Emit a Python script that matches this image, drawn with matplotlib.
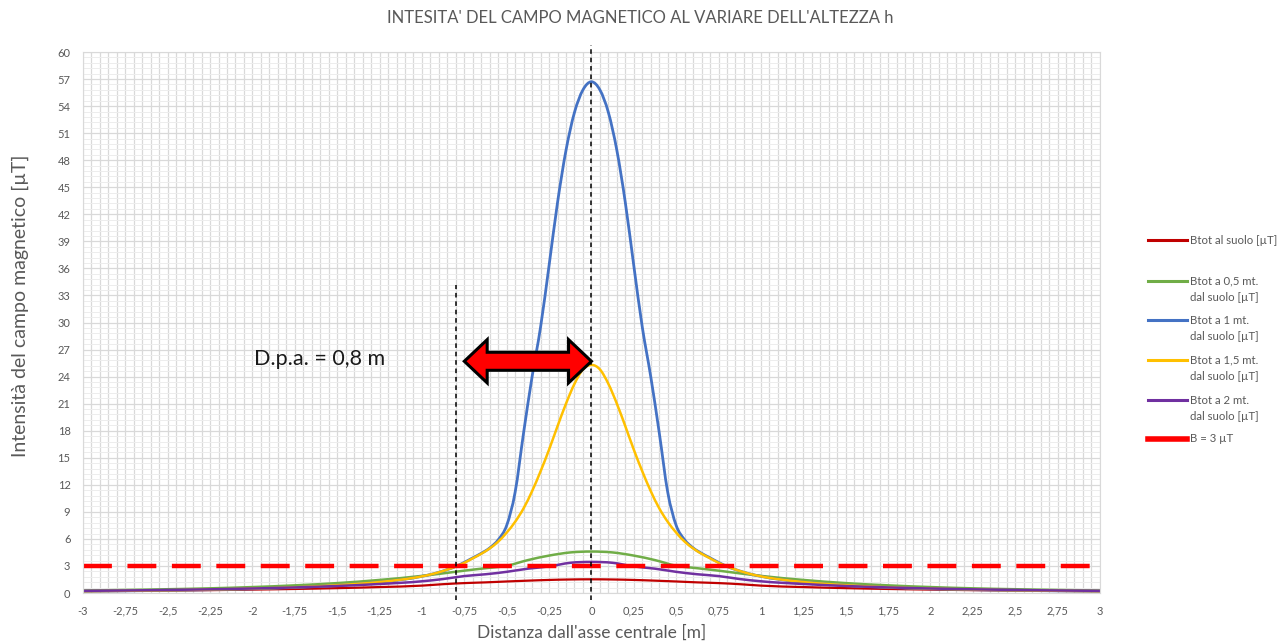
import matplotlib.pyplot as plt
import numpy as np
from matplotlib.lines import Line2D
from matplotlib.patches import Polygon, PathPatch
from matplotlib.path import Path
from matplotlib.ticker import MultipleLocator, FuncFormatter

plt.rcParams['font.family'] = ['Lato', 'DejaVu Sans']

# distanza dall'asse centrale [m]
x_fine = [-3, -2.75, -2.5, -2.25, -2, -1.75, -1.5, -1.25,
          -1.0, -0.95, -0.9, -0.85, -0.8, -0.75, -0.7, -0.65, -0.6, -0.55,
          -0.5, -0.45, -0.4, -0.35, -0.3, -0.25, -0.2, -0.15, -0.1, -0.05,
          0.0, 0.05, 0.1, 0.15, 0.2, 0.25, 0.3, 0.35, 0.4, 0.45,
          0.5, 0.55, 0.6, 0.65, 0.7, 0.75, 0.8, 0.85, 0.9, 0.95, 1.0,
          1.25, 1.5, 1.75, 2, 2.25, 2.5, 2.75, 3]
x_mid = [-3, -2.75, -2.5, -2.25, -2, -1.75, -1.5, -1.25,
         -1.0, -0.875, -0.75, -0.625, -0.5, -0.375, -0.25, -0.125,
         0.0, 0.125, 0.25, 0.375, 0.5, 0.625, 0.75, 0.875, 1.0,
         1.25, 1.5, 1.75, 2, 2.25, 2.5, 2.75, 3]

# Btot [uT] alle varie altezze
b_suolo = [0.20, 0.23, 0.27, 0.32, 0.38, 0.45, 0.54, 0.66,
           0.82, 0.98, 1.10, 1.18, 1.28, 1.37, 1.45, 1.50,
           1.52, 1.50, 1.45, 1.37, 1.28, 1.18, 1.10, 0.98, 0.82,
           0.66, 0.54, 0.45, 0.38, 0.32, 0.27, 0.23, 0.20]
b_05 = [0.28, 0.34, 0.42, 0.52, 0.66, 0.85, 1.10, 1.45,
        1.90, 2.18, 2.48, 2.75, 3.02, 3.65, 4.15, 4.50,
        4.60, 4.50, 4.15, 3.65, 3.02, 2.75, 2.48, 2.18, 1.90,
        1.45, 1.10, 0.85, 0.66, 0.52, 0.42, 0.34, 0.28]
b_1 = [0.20, 0.24, 0.30, 0.37, 0.47, 0.62, 0.85, 1.20,
       1.85, 2.05, 2.30, 2.60, 2.95, 3.40, 3.90, 4.40, 5.00, 5.90,
       7.50, 11.2, 17.8, 24.0, 29.5, 36.3, 43.3, 49.1, 53.3, 55.8,
       56.7, 55.8, 53.3, 49.1, 43.3, 36.3, 29.5, 24.0, 17.8, 11.2,
       7.50, 5.90, 5.00, 4.40, 3.90, 3.40, 2.95, 2.60, 2.30, 2.05, 1.85,
       1.20, 0.85, 0.62, 0.47, 0.37, 0.30, 0.24, 0.20]
b_15 = [0.21, 0.25, 0.31, 0.39, 0.49, 0.64, 0.87, 1.22,
        1.85, 2.05, 2.30, 2.60, 2.95, 3.35, 3.85, 4.35, 4.95, 5.70,
        6.70, 7.90, 9.40, 11.3, 13.5, 15.9, 18.5, 21.0, 23.2, 24.8,
        25.3, 24.8, 23.2, 21.0, 18.5, 15.9, 13.5, 11.3, 9.40, 7.90,
        6.70, 5.70, 4.95, 4.35, 3.85, 3.35, 2.95, 2.60, 2.30, 2.05, 1.85,
        1.22, 0.87, 0.64, 0.49, 0.39, 0.31, 0.25, 0.21]
b_2 = [0.24, 0.28, 0.34, 0.41, 0.50, 0.62, 0.78, 1.00,
       1.30, 1.55, 1.88, 2.08, 2.35, 2.70, 2.95, 3.35,
       3.45, 3.35, 2.95, 2.70, 2.35, 2.08, 1.88, 1.55, 1.30,
       1.00, 0.78, 0.62, 0.50, 0.41, 0.34, 0.28, 0.24]
b_limite = 3
dpa = 0.8

serie = [
    ('Btot al suolo [µT]', x_mid, b_suolo, '#C00000', 1.6),
    ('Btot a 0,5 mt.\ndal suolo [µT]', x_mid, b_05, '#70AD47', 1.8),
    ('Btot a 1 mt.\ndal suolo [µT]', x_fine, b_1, '#4472C4', 2.0),
    ('Btot a 1,5 mt.\ndal suolo [µT]', x_fine, b_15, '#FFC000', 1.8),
    ('Btot a 2 mt.\ndal suolo [µT]', x_mid, b_2, '#7030A0', 1.8),
]

grey = '#595959'


def smooth_path(xs, ys):
    # linea "smussata" come in Excel: tratti di Bezier cubica tra punti consecutivi
    x = np.asarray(xs, float)
    y = np.asarray(ys, float)
    h = np.diff(x)
    d = np.diff(y) / h
    m = np.empty_like(x)
    m[0], m[-1] = d[0], d[-1]
    m[1:-1] = (d[:-1] * h[1:] + d[1:] * h[:-1]) / (h[:-1] + h[1:])
    verts = [(x[0], y[0])]
    codes = [Path.MOVETO]
    for i in range(len(h)):
        verts += [(x[i] + h[i] / 3, y[i] + m[i] * h[i] / 3),
                  (x[i + 1] - h[i] / 3, y[i + 1] - m[i + 1] * h[i] / 3),
                  (x[i + 1], y[i + 1])]
        codes += [Path.CURVE4] * 3
    return Path(verts, codes)


fig = plt.figure(figsize=(12.8, 6.42), dpi=100)
ax = fig.add_axes([0.0648, 0.0763, 0.7945, 0.8427])

for label, xs, ys, col, lw in serie:
    ax.add_patch(PathPatch(smooth_path(xs, ys), facecolor='none', edgecolor=col,
                           lw=lw, capstyle='round', joinstyle='round'))
ax.plot([-3, 3], [b_limite, b_limite], color='#FF0000', lw=3.2, dashes=(6.5, 3.5))

# linee verticali tratteggiate: asse centrale e distanza di prima approssimazione
ax.plot([0, 0], [-0.8, 60.8], color='black', lw=1.1, dashes=(3, 2.5), clip_on=False, zorder=5)
ax.plot([-dpa, -dpa], [-0.8, 34.2], color='black', lw=1.1, dashes=(3, 2.5), clip_on=False, zorder=5)

# freccia doppia rossa
ay, x0, x1 = 25.7, -0.75, 0.0
hl, hh, sh = 0.135, 2.4, 1.0
pts = [(x0, ay), (x0 + hl, ay + hh), (x0 + hl, ay + sh), (x1 - hl, ay + sh),
       (x1 - hl, ay + hh), (x1, ay), (x1 - hl, ay - hh), (x1 - hl, ay - sh),
       (x0 + hl, ay - sh), (x0 + hl, ay - hh)]
ax.add_patch(Polygon(pts, closed=True, facecolor='#FF0000', edgecolor='black',
                     lw=2.2, joinstyle='miter', zorder=6))
ax.text(-1.99, 25.9, 'D.p.a. = 0,8 m', fontsize=15.5, color='#1a1a1a', ha='left', va='center')

ax.set_xlim(-3, 3)
ax.set_ylim(0, 60)
ax.xaxis.set_major_locator(MultipleLocator(0.25))
ax.xaxis.set_minor_locator(MultipleLocator(0.05))
ax.yaxis.set_major_locator(MultipleLocator(3))
ax.yaxis.set_minor_locator(MultipleLocator(0.6))
ax.xaxis.set_major_formatter(FuncFormatter(lambda v, p: ('%g' % v).replace('.', ',')))
ax.grid(which='major', color='#D9D9D9', lw=0.9)
ax.grid(which='minor', axis='x', color='#D9D9D9', lw=0.9)
ax.grid(which='minor', axis='y', color='#EDEDED', lw=0.7)
ax.set_axisbelow(True)
for s in ax.spines.values():
    s.set_color('#D9D9D9')
ax.tick_params(which='both', length=0, labelsize=8, labelcolor=grey)
ax.tick_params(axis='x', pad=9)
ax.tick_params(axis='y', pad=9)

ax.set_xlabel("Distanza dall'asse centrale [m]", fontsize=12.5, color=grey, labelpad=6)
ax.set_ylabel('Intensità del campo magnetico [µT]', fontsize=14, color=grey)
ax.yaxis.set_label_coords(-0.053, 0.53)
fig.suptitle("INTESITA' DEL CAMPO MAGNETICO AL VARIARE DELL'ALTEZZA h", y=0.985,
             fontsize=12, color=grey, family=['Liberation Sans Narrow', 'Lato'])

# legenda a destra del grafico (coordinate in pixel della figura)
W, H = 1280, 642
leg_rows = [240, 281, 320, 360, 400, 439]
leg_items = [(s[0], s[3], 2.2) for s in serie] + [('B = 3 µT', '#FF0000', 4.0)]
for yrow, (label, col, lw) in zip(leg_rows, leg_items):
    fig.add_artist(Line2D([1148 / W, 1187 / W], [1 - yrow / H, 1 - yrow / H],
                          color=col, lw=lw, transform=fig.transFigure))
    for k, riga in enumerate(label.split('\n')):
        fig.text(1190 / W, 1 - (yrow + 17 * k) / H, riga, fontsize=8.2,
                 color=grey, ha='left', va='center')

fig.savefig('out.png', dpi=100)
